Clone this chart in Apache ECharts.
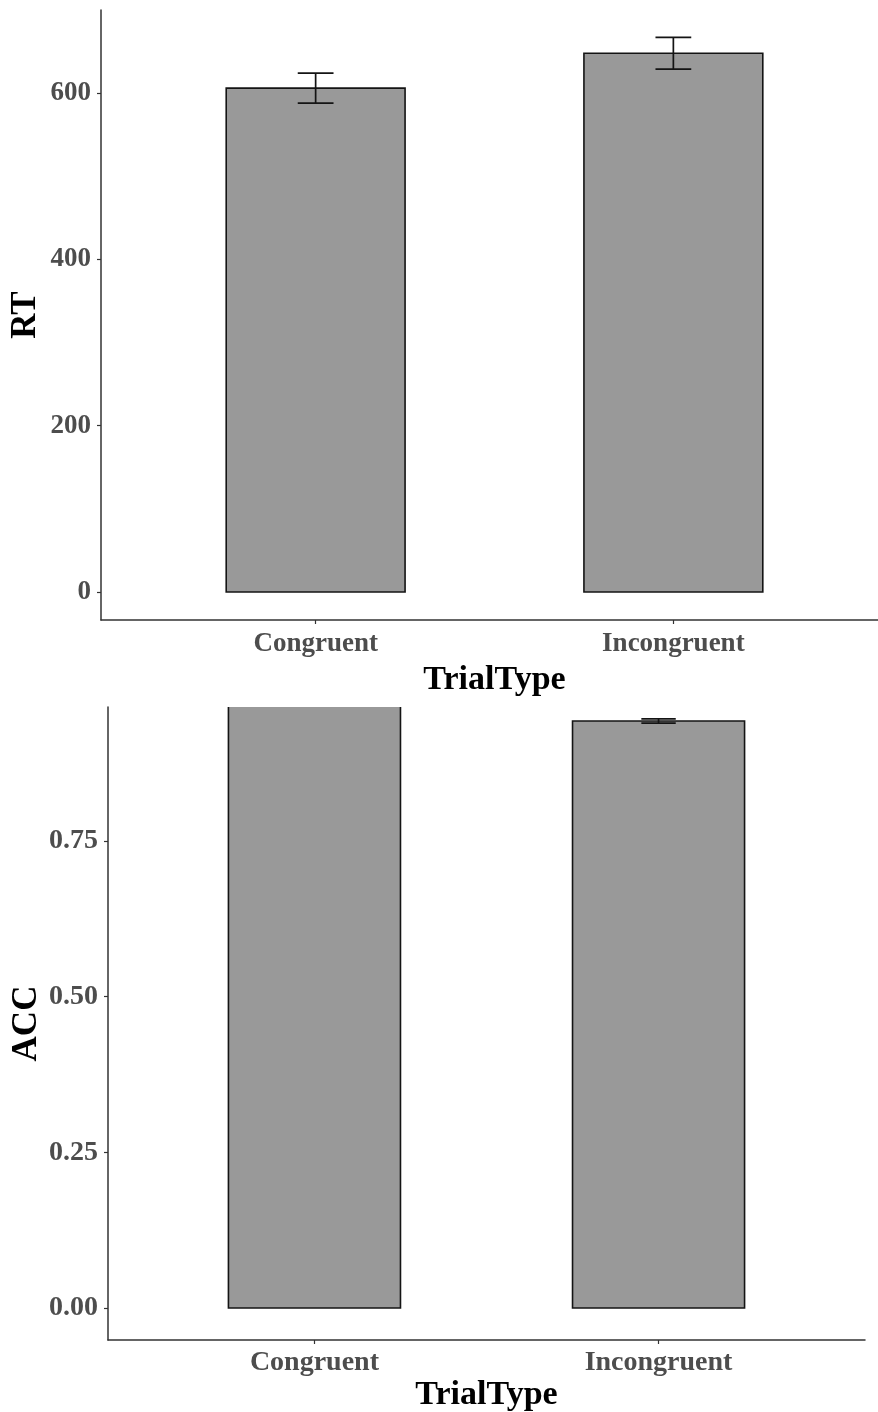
<!DOCTYPE html>
<html>
<head>
<meta charset="utf-8">
<script src="https://cdn.jsdelivr.net/npm/echarts@6/dist/echarts.min.js"></script>
<style>
  html, body { margin: 0; padding: 0; background: #ffffff; }
  #chart { width: 878px; height: 1412px; }
</style>
</head>
<body>
<div id="chart"></div>
<script>
// Mean reaction time and accuracy per trial type, with standard-error bars
const categories = ['Congruent', 'Incongruent'];

const rtMean = [606, 648];
const rtLow = [588, 629];
const rtHigh = [624, 667];
const rtTicks = [0, 200, 400, 600];

const accMean = [0.975, 0.9425];
const accLow = [0.972, 0.939];
const accHigh = [0.978, 0.946];
const accTicks = [0, 0.25, 0.5, 0.75];

const FONT = '"Liberation Serif", "Times New Roman", serif';
const BAR_HALF = 0.25;
const CAP_HALF = 0.05;
const positions = categories.map((_, i) => i + 1);

function barItem(params, api) {
  const x = api.value(0), y = api.value(1);
  const a = api.coord([x - BAR_HALF, y]);
  const b = api.coord([x + BAR_HALF, 0]);
  return {
    type: 'rect',
    shape: { x: a[0], y: a[1], width: b[0] - a[0], height: b[1] - a[1] },
    style: { fill: '#999999', stroke: '#141414', lineWidth: 1.6 }
  };
}

function errItem(params, api) {
  const x = api.value(0), lo = api.value(1), hi = api.value(2);
  const pLo = api.coord([x, lo]), pHi = api.coord([x, hi]);
  const l0 = api.coord([x - CAP_HALF, lo]), l1 = api.coord([x + CAP_HALF, lo]);
  const h0 = api.coord([x - CAP_HALF, hi]), h1 = api.coord([x + CAP_HALF, hi]);
  const st = { stroke: '#141414', lineWidth: 1.7 };
  return {
    type: 'group',
    children: [
      { type: 'line', shape: { x1: pLo[0], y1: pLo[1], x2: pHi[0], y2: pHi[1] }, style: st },
      { type: 'line', shape: { x1: l0[0], y1: l0[1], x2: l1[0], y2: l1[1] }, style: st },
      { type: 'line', shape: { x1: h0[0], y1: h0[1], x2: h1[0], y2: h1[1] }, style: st }
    ]
  };
}

function xAxisFor(gridIndex, labelSize, labelMargin, nameGap) {
  return {
    gridIndex: gridIndex,
    type: 'value',
    min: 0.4,
    max: 2.6,
    name: 'TrialType',
    nameLocation: 'middle',
    nameGap: nameGap,
    nameMoveOverlap: false,
    nameTextStyle: { fontFamily: FONT, fontWeight: 'bold', fontSize: 34, color: '#000' },
    axisLine: { show: true, onZero: false, lineStyle: { color: '#333', width: 1.5 } },
    axisTick: { show: true, length: 4, customValues: positions, lineStyle: { color: '#333', width: 1.2 } },
    axisLabel: {
      customValues: positions,
      margin: labelMargin,
      fontFamily: FONT, fontWeight: 'bold', fontSize: labelSize, color: '#4d4d4d',
      formatter: v => categories[Math.round(v) - 1]
    },
    splitLine: { show: false }
  };
}

function yAxisFor(gridIndex, name, min, max, ticks, fmt, labelSize, gap) {
  return {
    gridIndex: gridIndex,
    type: 'value',
    min: min,
    max: max,
    name: name,
    nameLocation: 'middle',
    nameGap: gap,
    nameRotate: 90,
    nameMoveOverlap: false,
    nameTextStyle: { fontFamily: FONT, fontWeight: 'bold', fontSize: 35, color: '#000' },
    axisLine: { show: true, onZero: false, lineStyle: { color: '#333', width: 1.5 } },
    axisTick: { show: true, length: 4, customValues: ticks, lineStyle: { color: '#333', width: 1.2 } },
    axisLabel: {
      customValues: ticks,
      margin: 10,
      fontFamily: FONT, fontWeight: 'bold', fontSize: labelSize, color: '#4d4d4d',
      formatter: fmt
    },
    splitLine: { show: false }
  };
}

const chart = echarts.init(document.getElementById('chart'), null, { renderer: 'canvas' });
chart.setOption({
  backgroundColor: '#ffffff',
  animation: false,
  grid: [
    { left: 101, top: 10, width: 787, height: 610, outerBoundsMode: 'none', containLabel: false },
    { left: 108, top: 707, width: 757, height: 633, outerBoundsMode: 'none', containLabel: false }
  ],
  xAxis: [xAxisFor(0, 27, 11, 43), xAxisFor(1, 28, 9, 38)],
  yAxis: [
    yAxisFor(0, 'RT', -33.7, 700, rtTicks, v => String(Math.round(v)), 27, 58),
    yAxisFor(1, 'ACC', -0.0514, 0.965, accTicks, v => v.toFixed(2), 28, 64)
  ],
  series: [
    {
      type: 'custom', xAxisIndex: 0, yAxisIndex: 0, clip: true,
      renderItem: barItem,
      data: positions.map((p, i) => [p, rtMean[i]])
    },
    {
      type: 'custom', xAxisIndex: 0, yAxisIndex: 0, clip: true,
      renderItem: errItem,
      data: positions.map((p, i) => [p, rtLow[i], rtHigh[i]])
    },
    {
      type: 'custom', xAxisIndex: 1, yAxisIndex: 1, clip: true,
      renderItem: barItem,
      data: positions.map((p, i) => [p, accMean[i]])
    },
    {
      type: 'custom', xAxisIndex: 1, yAxisIndex: 1, clip: true,
      renderItem: errItem,
      data: positions.map((p, i) => [p, accLow[i], accHigh[i]])
    }
  ]
});
</script>
</body>
</html>
